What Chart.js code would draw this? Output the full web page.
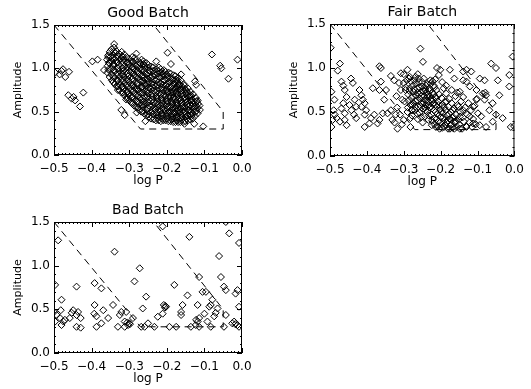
<!DOCTYPE html>
<html>
<head>
<meta charset="utf-8">
<script src="https://cdn.jsdelivr.net/npm/chart.js@4.4.0/dist/chart.umd.min.js"></script>
<style>
  body { margin: 0; background: #fff; width: 531px; height: 389px; position: relative; overflow: hidden; }
  canvas { position: absolute; }
</style>
</head>
<body>
<canvas id="good" width="265" height="195" style="left:0;top:0"></canvas>
<canvas id="fair" width="266" height="195" style="left:265px;top:0"></canvas>
<canvas id="bad" width="265" height="194" style="left:0;top:195px"></canvas>
<script>
// axis ticks
const xTicks = [-0.5, -0.4, -0.3, -0.2, -0.1, 0.0];
const yTicks = [0.0, 0.5, 1.0, 1.5];
const xMinorStep = 0.01;
const yMinorStep = 0.1;

// selection region (log P, amplitude)
const regionLogP = [-0.5, -0.27, -0.05, -0.05, -0.235];
const regionAmp = [1.5, 0.3, 0.3, 0.5, 1.5];

// Good batch: main clump plus stragglers
const goodCore = [
  [-0.358,0.95],[-0.357,1.03],[-0.359,1.1],[-0.356,1.15],
  [-0.352,0.9],[-0.351,0.98],[-0.353,1.06],[-0.35,1.13],[-0.352,1.19],
  [-0.346,0.86],[-0.347,0.93],[-0.345,1.0],[-0.346,1.08],[-0.344,1.15],[-0.347,1.22],
  [-0.339,0.82],[-0.34,0.89],[-0.338,0.97],[-0.341,1.04],[-0.339,1.11],[-0.337,1.18],[-0.34,1.24],
  [-0.333,0.79],[-0.332,0.86],[-0.334,0.93],[-0.331,1.0],[-0.333,1.07],[-0.332,1.14],[-0.334,1.2],
  [-0.326,0.75],[-0.327,0.82],[-0.325,0.9],[-0.326,0.97],[-0.328,1.04],[-0.325,1.1],[-0.327,1.17],
  [-0.32,0.72],[-0.319,0.79],[-0.321,0.86],[-0.32,0.93],[-0.318,1.0],[-0.321,1.07],[-0.319,1.14],[-0.32,1.19],
  [-0.313,0.69],[-0.314,0.76],[-0.312,0.83],[-0.313,0.9],[-0.315,0.97],[-0.312,1.03],[-0.314,1.1],[-0.313,1.16],
  [-0.307,0.66],[-0.306,0.73],[-0.308,0.8],[-0.307,0.87],[-0.305,0.94],[-0.308,1.0],[-0.306,1.07],[-0.307,1.13],
  [-0.3,0.63],[-0.301,0.7],[-0.299,0.77],[-0.3,0.84],[-0.302,0.91],[-0.299,0.97],[-0.301,1.04],[-0.3,1.11],
  [-0.294,0.6],[-0.293,0.67],[-0.295,0.74],[-0.294,0.81],[-0.292,0.88],[-0.295,0.95],[-0.293,1.01],[-0.294,1.08],[-0.292,1.13],
  [-0.287,0.57],[-0.288,0.64],[-0.286,0.71],[-0.287,0.78],[-0.289,0.85],[-0.286,0.92],[-0.288,0.99],[-0.287,1.05],[-0.285,1.12],
  [-0.281,0.55],[-0.28,0.62],[-0.282,0.69],[-0.281,0.76],[-0.279,0.83],[-0.282,0.9],[-0.28,0.96],[-0.281,1.03],[-0.283,1.09],
  [-0.274,0.52],[-0.275,0.59],[-0.273,0.66],[-0.274,0.73],[-0.276,0.8],[-0.273,0.87],[-0.275,0.94],[-0.274,1.0],[-0.272,1.07],
  [-0.268,0.5],[-0.267,0.57],[-0.269,0.64],[-0.268,0.71],[-0.266,0.78],[-0.269,0.85],[-0.267,0.91],[-0.268,0.98],[-0.27,1.05],[-0.267,1.1],
  [-0.261,0.48],[-0.262,0.55],[-0.26,0.62],[-0.261,0.68],[-0.263,0.75],[-0.26,0.82],[-0.262,0.89],[-0.261,0.96],[-0.259,1.03],[-0.262,1.08],
  [-0.255,0.46],[-0.254,0.52],[-0.256,0.59],[-0.255,0.66],[-0.253,0.73],[-0.256,0.8],[-0.254,0.87],[-0.255,0.93],[-0.257,1.0],[-0.254,1.06],
  [-0.248,0.44],[-0.249,0.5],[-0.247,0.57],[-0.248,0.64],[-0.25,0.71],[-0.247,0.78],[-0.249,0.84],[-0.248,0.91],[-0.246,0.98],[-0.249,1.04],
  [-0.242,0.42],[-0.241,0.49],[-0.243,0.55],[-0.242,0.62],[-0.24,0.69],[-0.243,0.76],[-0.241,0.82],[-0.242,0.89],[-0.244,0.96],[-0.241,1.02],
  [-0.235,0.41],[-0.236,0.47],[-0.234,0.54],[-0.235,0.61],[-0.237,0.67],[-0.234,0.74],[-0.236,0.81],[-0.235,0.87],[-0.233,0.94],[-0.236,1.01],
  [-0.229,0.4],[-0.228,0.46],[-0.23,0.53],[-0.229,0.59],[-0.227,0.66],[-0.23,0.72],[-0.228,0.79],[-0.229,0.86],[-0.231,0.92],[-0.228,0.99],
  [-0.222,0.4],[-0.223,0.46],[-0.221,0.52],[-0.222,0.58],[-0.224,0.65],[-0.221,0.71],[-0.223,0.77],[-0.222,0.84],[-0.22,0.9],[-0.223,0.97],[-0.221,1.01],
  [-0.216,0.39],[-0.215,0.45],[-0.217,0.51],[-0.216,0.57],[-0.214,0.64],[-0.217,0.7],[-0.215,0.76],[-0.216,0.82],[-0.218,0.89],[-0.215,0.95],[-0.216,0.99],
  [-0.209,0.4],[-0.21,0.46],[-0.208,0.52],[-0.209,0.58],[-0.211,0.63],[-0.208,0.69],[-0.21,0.75],[-0.209,0.81],[-0.207,0.87],[-0.21,0.93],[-0.208,0.98],
  [-0.203,0.4],[-0.202,0.45],[-0.204,0.51],[-0.203,0.57],[-0.201,0.62],[-0.204,0.68],[-0.202,0.74],[-0.203,0.8],[-0.205,0.86],[-0.202,0.92],[-0.203,0.96],
  [-0.196,0.39],[-0.197,0.45],[-0.195,0.5],[-0.196,0.56],[-0.198,0.62],[-0.195,0.67],[-0.197,0.73],[-0.196,0.79],[-0.194,0.85],[-0.197,0.91],[-0.195,0.95],
  [-0.19,0.39],[-0.189,0.44],[-0.191,0.5],[-0.19,0.55],[-0.188,0.61],[-0.191,0.67],[-0.189,0.72],[-0.19,0.78],[-0.192,0.84],[-0.189,0.89],[-0.19,0.94],
  [-0.183,0.38],[-0.184,0.44],[-0.182,0.49],[-0.183,0.55],[-0.185,0.6],[-0.182,0.66],[-0.184,0.72],[-0.183,0.77],[-0.181,0.83],[-0.184,0.88],[-0.182,0.92],
  [-0.177,0.38],[-0.176,0.43],[-0.178,0.49],[-0.177,0.54],[-0.175,0.6],[-0.178,0.65],[-0.176,0.71],[-0.177,0.76],[-0.179,0.82],[-0.176,0.87],[-0.177,0.91],
  [-0.17,0.38],[-0.171,0.43],[-0.169,0.48],[-0.17,0.54],[-0.172,0.59],[-0.169,0.65],[-0.171,0.7],[-0.17,0.76],[-0.168,0.81],[-0.171,0.86],[-0.169,0.89],
  [-0.164,0.38],[-0.163,0.43],[-0.165,0.49],[-0.164,0.54],[-0.162,0.6],[-0.165,0.65],[-0.163,0.7],[-0.164,0.76],[-0.166,0.81],[-0.163,0.86],
  [-0.157,0.38],[-0.158,0.44],[-0.156,0.49],[-0.157,0.55],[-0.159,0.6],[-0.156,0.65],[-0.158,0.71],[-0.157,0.76],[-0.155,0.82],
  [-0.151,0.39],[-0.15,0.44],[-0.152,0.5],[-0.151,0.55],[-0.149,0.61],[-0.152,0.66],[-0.15,0.71],[-0.151,0.76],[-0.153,0.8],
  [-0.144,0.4],[-0.145,0.45],[-0.143,0.51],[-0.144,0.56],[-0.146,0.62],[-0.143,0.67],[-0.145,0.72],[-0.144,0.77],
  [-0.138,0.41],[-0.137,0.46],[-0.139,0.52],[-0.138,0.57],[-0.136,0.63],[-0.139,0.68],[-0.137,0.73],
  [-0.131,0.42],[-0.132,0.48],[-0.13,0.53],[-0.131,0.59],[-0.133,0.64],[-0.13,0.7],
  [-0.125,0.45],[-0.124,0.5],[-0.126,0.56],[-0.125,0.61],[-0.123,0.66],
  [-0.118,0.48],[-0.119,0.54],[-0.117,0.59],[-0.118,0.63],
  [-0.112,0.52],[-0.113,0.57]
];
// points packed between the ones above in the densest part
const goodCoreFill = [
  [-0.355,0.985],[-0.354,1.065],[-0.356,1.13],
  [-0.342,0.84],[-0.343,0.91],[-0.341,0.98],[-0.342,1.05],[-0.344,1.12],[-0.341,1.19],
  [-0.329,0.79],[-0.33,0.86],[-0.328,0.93],[-0.329,1.0],[-0.331,1.07],[-0.328,1.14],
  [-0.316,0.72],[-0.317,0.79],[-0.315,0.86],[-0.316,0.93],[-0.318,1.0],[-0.315,1.07],[-0.317,1.13],
  [-0.303,0.66],[-0.304,0.73],[-0.302,0.8],[-0.303,0.87],[-0.305,0.94],[-0.302,1.01],[-0.304,1.07],
  [-0.29,0.6],[-0.291,0.67],[-0.289,0.74],[-0.29,0.81],[-0.292,0.88],[-0.289,0.95],[-0.291,1.02],[-0.29,1.08],
  [-0.277,0.55],[-0.278,0.62],[-0.276,0.69],[-0.277,0.76],[-0.279,0.83],[-0.276,0.9],[-0.278,0.97],[-0.277,1.04],
  [-0.264,0.51],[-0.265,0.58],[-0.263,0.65],[-0.264,0.72],[-0.266,0.79],[-0.263,0.86],[-0.265,0.92],[-0.264,0.99],[-0.262,1.05],
  [-0.251,0.47],[-0.252,0.54],[-0.25,0.61],[-0.251,0.68],[-0.253,0.75],[-0.25,0.82],[-0.252,0.88],[-0.251,0.95],[-0.249,1.01],
  [-0.238,0.44],[-0.239,0.51],[-0.237,0.57],[-0.238,0.64],[-0.24,0.71],[-0.237,0.78],[-0.239,0.84],[-0.238,0.91],[-0.236,0.97],
  [-0.225,0.43],[-0.226,0.49],[-0.224,0.55],[-0.225,0.62],[-0.227,0.68],[-0.224,0.74],[-0.226,0.81],[-0.225,0.87],[-0.223,0.94],
  [-0.212,0.42],[-0.213,0.48],[-0.211,0.54],[-0.212,0.6],[-0.214,0.66],[-0.211,0.72],[-0.213,0.78],[-0.212,0.85],[-0.21,0.91],[-0.213,0.96],
  [-0.199,0.42],[-0.2,0.48],[-0.198,0.53],[-0.199,0.59],[-0.201,0.65],[-0.198,0.71],[-0.2,0.76],[-0.199,0.82],[-0.197,0.88],[-0.2,0.93],
  [-0.186,0.41],[-0.187,0.47],[-0.185,0.52],[-0.186,0.58],[-0.188,0.63],[-0.185,0.69],[-0.187,0.75],[-0.186,0.8],[-0.184,0.86],
  [-0.173,0.4],[-0.174,0.46],[-0.172,0.51],[-0.173,0.57],[-0.175,0.62],[-0.172,0.68],[-0.174,0.73],[-0.173,0.79],[-0.171,0.84],
  [-0.16,0.41],[-0.161,0.46],[-0.159,0.52],[-0.16,0.57],[-0.162,0.63],[-0.159,0.68],[-0.161,0.74],[-0.16,0.79],
  [-0.147,0.42],[-0.148,0.47],[-0.146,0.53],[-0.147,0.58],[-0.149,0.64],[-0.146,0.69],[-0.148,0.74],
  [-0.134,0.45],[-0.135,0.5],[-0.133,0.56],[-0.134,0.61],[-0.136,0.67],
  [-0.121,0.51],[-0.122,0.57],[-0.12,0.62]
];
const goodStray = [
  [-0.497,0.95],[-0.485,0.93],[-0.476,0.99],[-0.47,0.9],[-0.46,0.96],[-0.48,0.97],
  [-0.462,0.69],[-0.453,0.65],[-0.444,0.63],[-0.448,0.67],[-0.431,0.56],[-0.422,0.72],
  [-0.398,1.08],[-0.384,1.1],[-0.367,0.98],[-0.34,1.28],[-0.33,0.75],[-0.321,0.52],
  [-0.312,0.46],[-0.308,0.64],[-0.281,1.17],[-0.28,0.49],[-0.259,0.58],[-0.257,0.39],
  [-0.228,1.08],[-0.198,1.18],[-0.189,1.05],[-0.162,0.93],[-0.122,0.81],[-0.125,0.85],
  [-0.136,0.69],[-0.153,0.36],[-0.127,0.36],[-0.103,0.33],[-0.08,1.16],[-0.058,1.03],
  [-0.055,1.0],[-0.036,0.88],[-0.012,1.1]
];

// Fair batch
const fairPoints = [
  [-0.498,1.23],[-0.473,1.05],[-0.479,0.97],[-0.496,0.73],[-0.488,0.64],[-0.49,0.52],
  [-0.487,0.47],[-0.493,0.41],[-0.496,0.33],[-0.482,0.43],[-0.473,0.39],[-0.469,0.845],
  [-0.464,0.8],[-0.46,0.75],[-0.455,0.67],[-0.464,0.6],[-0.469,0.54],[-0.46,0.485],
  [-0.455,0.35],[-0.46,0.41],[-0.447,0.58],[-0.442,0.52],[-0.443,0.88],[-0.438,0.83],
  [-0.433,0.64],[-0.429,0.56],[-0.435,0.47],[-0.429,0.43],[-0.42,0.75],[-0.415,0.69],
  [-0.411,0.64],[-0.406,0.6],[-0.415,0.56],[-0.402,0.52],[-0.406,0.47],[-0.406,0.33],
  [-0.393,0.37],[-0.389,0.43],[-0.38,0.47],[-0.384,0.77],[-0.366,0.75],[-0.362,0.845],
  [-0.357,0.485],[-0.366,0.41],[-0.371,0.37],[-0.362,1.0],[-0.366,1.02],[-0.353,0.64],
  [-0.348,0.75],[-0.344,0.485],[-0.335,0.52],[-0.335,0.91],[-0.326,0.86],[-0.331,0.41],
  [-0.322,0.47],[-0.317,0.31],[-0.313,0.83],[-0.308,0.94],[-0.308,0.75],[-0.304,0.64],
  [-0.3,0.41],[-0.29,0.98],[-0.286,0.88],[-0.295,0.75],[-0.282,0.33],[-0.277,0.52],
  [-0.282,0.43],[-0.268,0.9],[-0.255,1.22],[-0.248,1.07],
  [-0.325,0.38],[-0.318,0.55],[-0.31,0.47],[-0.305,0.36],[-0.32,0.68],[-0.3,0.83],
  [-0.298,0.62],[-0.295,0.78],[-0.292,0.86],[-0.29,0.5],[-0.288,0.7],[-0.284,0.9],
  [-0.282,0.58],[-0.28,0.66],[-0.278,0.46],[-0.276,0.8],[-0.274,0.73],[-0.271,0.86],
  [-0.27,0.52],[-0.268,0.62],[-0.266,0.69],[-0.264,0.77],[-0.262,0.42],[-0.261,0.56],
  [-0.259,0.84],[-0.257,0.49],[-0.256,0.65],[-0.254,0.72],[-0.252,0.6],[-0.251,0.79],
  [-0.249,0.38],[-0.248,0.54],[-0.246,0.88],[-0.245,0.68],[-0.243,0.45],[-0.242,0.75],
  [-0.24,0.58],[-0.239,0.63],[-0.237,0.82],[-0.236,0.5],[-0.234,0.7],[-0.233,0.41],
  [-0.231,0.77],[-0.23,0.55],[-0.228,0.86],[-0.227,0.64],[-0.225,0.47],[-0.224,0.35],
  [-0.222,0.72],[-0.221,0.59],[-0.219,0.8],[-0.218,0.52],[-0.216,0.43],[-0.215,0.67],
  [-0.213,0.33],[-0.212,0.75],[-0.21,0.56],[-0.209,0.48],[-0.207,0.62],[-0.206,0.39],
  [-0.204,0.7],[-0.203,0.31],[-0.201,0.53],[-0.2,0.44],[-0.198,0.66],[-0.197,0.36],
  [-0.195,0.58],[-0.194,0.49],[-0.192,0.77],[-0.191,0.33],[-0.189,0.41],[-0.188,0.61],
  [-0.186,0.52],[-0.185,0.71],[-0.183,0.38],[-0.182,0.46],[-0.18,0.31],[-0.179,0.56],
  [-0.177,0.65],[-0.176,0.42],[-0.174,0.35],[-0.172,0.5],[-0.17,0.6],[-0.168,0.32],
  [-0.166,0.44],[-0.164,0.54],[-0.162,0.38],[-0.16,0.68],[-0.158,0.47],[-0.156,0.33],
  [-0.154,0.58],[-0.152,0.41],[-0.15,0.36],[-0.147,0.5],[-0.145,0.62],[-0.142,0.31],
  [-0.14,0.44],[-0.137,0.39],[-0.134,0.55],[-0.131,0.34],[-0.128,0.47],[-0.125,0.6],
  [-0.122,0.38],[-0.118,0.52],[-0.115,0.33],[-0.112,0.42],[-0.108,0.57],[-0.105,0.36],
  [-0.102,0.65],
  [-0.285,0.74],[-0.279,0.52],[-0.273,0.6],[-0.267,0.82],[-0.263,0.48],[-0.258,0.7],
  [-0.253,0.44],[-0.247,0.6],[-0.244,0.78],[-0.241,0.52],[-0.238,0.72],[-0.235,0.62],
  [-0.232,0.46],[-0.229,0.68],[-0.226,0.56],[-0.223,0.4],[-0.22,0.64],[-0.217,0.36],
  [-0.214,0.5],[-0.211,0.42],[-0.208,0.34],[-0.205,0.58],[-0.202,0.38],[-0.199,0.5],
  [-0.196,0.32],[-0.193,0.44],[-0.19,0.55],[-0.187,0.35],[-0.184,0.62],[-0.181,0.4],
  [-0.178,0.48],[-0.175,0.31],[-0.171,0.41],[-0.167,0.52],[-0.163,0.31],[-0.159,0.4],
  [-0.289,0.55],[-0.287,0.63],[-0.283,0.77],[-0.281,0.85],[-0.277,0.58],[-0.275,0.68],
  [-0.272,0.76],[-0.269,0.56],[-0.265,0.63],[-0.263,0.72],[-0.26,0.88],[-0.258,0.78],
  [-0.255,0.57],[-0.252,0.68],[-0.25,0.84],[-0.247,0.74],[-0.244,0.64],[-0.242,0.55],
  [-0.239,0.8],[-0.236,0.67],[-0.233,0.58],[-0.23,0.74],[-0.227,0.82],[-0.224,0.62],
  [-0.222,0.85],[-0.219,0.7],[-0.217,0.78],[-0.214,0.58],[-0.212,0.66],
  [-0.3,0.93],[-0.262,0.93],[-0.215,0.87],[-0.205,0.92],[-0.196,0.84],[-0.185,0.8],
  [-0.17,0.75],[-0.163,0.88],[-0.155,0.72],
  [-0.21,1.0],[-0.201,0.98],[-0.175,0.98],[-0.139,0.96],[-0.13,0.98],[-0.117,0.96],
  [-0.094,0.88],[-0.081,0.86],[-0.063,1.05],[-0.05,1.0],[-0.045,0.86],[-0.041,0.69],
  [-0.014,0.92],[-0.014,0.79],[-0.005,1.13],[-0.01,0.33],[-0.001,0.34],[-0.032,0.43],
  [-0.05,0.47],[-0.068,0.52],[-0.059,0.6],[-0.081,0.64],[-0.086,0.71],[-0.077,0.69],
  [-0.079,0.72],[-0.103,0.75],[-0.103,0.64],[-0.121,0.79],[-0.112,0.56],[-0.099,0.485],
  [-0.09,0.45],[-0.121,0.45],[-0.112,0.37],[-0.13,0.33],[-0.094,0.35],[-0.077,0.33],
  [-0.059,0.39],[-0.139,0.86],[-0.13,0.845],[-0.148,0.73],[-0.139,0.67],[-0.152,0.56],
  [-0.139,0.52],[-0.148,0.45],[-0.161,0.39],[-0.148,0.31]
];

// Bad batch
const badPoints = [
  [-0.489,1.29],[-0.497,0.78],[-0.5,0.47],[-0.493,0.435],[-0.497,0.36],[-0.48,0.61],
  [-0.482,0.49],[-0.484,0.4],[-0.475,0.36],[-0.48,0.32],[-0.471,0.38],[-0.458,0.4],
  [-0.449,0.49],[-0.453,0.46],[-0.44,0.435],[-0.44,0.76],[-0.436,0.47],[-0.429,0.4],
  [-0.44,0.3],[-0.429,0.29],[-0.392,0.8],[-0.392,0.55],[-0.393,0.45],[-0.387,0.42],
  [-0.387,0.3],[-0.374,0.34],[-0.374,0.74],[-0.369,0.49],[-0.356,0.4],[-0.343,0.55],
  [-0.339,1.16],[-0.33,0.3],[-0.325,0.435],[-0.321,0.47],[-0.312,0.36],[-0.308,0.47],
  [-0.312,0.3],[-0.303,0.32],[-0.3,0.34],[-0.298,0.33],[-0.305,0.35],[-0.29,0.4],
  [-0.286,0.82],[-0.272,0.97],[-0.268,0.3],[-0.259,0.3],[-0.25,0.34],[-0.264,0.51],
  [-0.255,0.645],[-0.233,0.3],[-0.224,0.415],[-0.211,1.45],[-0.208,0.55],[-0.202,0.53],
  [-0.205,0.52],[-0.204,0.54],[-0.211,0.45],[-0.193,0.3],[-0.18,0.78],[-0.175,0.3],
  [-0.162,0.435],[-0.162,0.47],[-0.158,0.55],[-0.145,0.66],[-0.14,1.33],[-0.136,0.3],
  [-0.123,0.32],[-0.118,0.36],[-0.122,0.38],[-0.114,0.4],[-0.118,0.55],[-0.114,0.3],
  [-0.114,0.87],[-0.105,0.7],[-0.1,0.45],[-0.096,0.7],[-0.092,0.36],[-0.083,0.3],
  [-0.087,0.53],[-0.083,0.55],[-0.079,0.61],[-0.074,0.42],[-0.07,0.46],[-0.065,0.51],
  [-0.061,1.11],[-0.056,0.87],[-0.048,0.3],[-0.043,0.435],[-0.048,0.76],[-0.043,0.72],
  [-0.034,1.37],[-0.043,1.5],[-0.026,0.34],[-0.021,0.36],[-0.018,0.33],[-0.017,0.68],
  [-0.012,0.72],[-0.008,1.26],[-0.012,0.32],[-0.008,0.53],[-0.008,0.3]
];

const FONT = 'DejaVu Sans';

// box with inward ticks on all four sides, titles drawn by hand
const idlFrame = {
  id: 'idlFrame',
  afterDraw(chart, args, opts) {
    const { ctx, chartArea: a, scales: { x, y } } = chart;
    ctx.save();
    ctx.strokeStyle = '#000';
    ctx.lineWidth = 1;
    ctx.strokeRect(a.left + 0.5, a.top + 0.5, a.right - a.left - 1, a.bottom - a.top - 1);
    ctx.beginPath();
    const nx = Math.round((xTicks[xTicks.length - 1] - xTicks[0]) / xMinorStep);
    for (let i = 0; i <= nx; i++) {
      const px = Math.round(x.getPixelForValue(xTicks[0] + i * xMinorStep)) + 0.5;
      const len = i % 10 === 0 ? 5 : 2;
      ctx.moveTo(px, a.bottom); ctx.lineTo(px, a.bottom - len);
      ctx.moveTo(px, a.top); ctx.lineTo(px, a.top + len);
    }
    const ny = Math.round((yTicks[yTicks.length - 1] - yTicks[0]) / yMinorStep);
    for (let i = 0; i <= ny; i++) {
      const py = Math.round(y.getPixelForValue(yTicks[0] + i * yMinorStep)) + 0.5;
      const len = i % 5 === 0 ? 5 : 2;
      ctx.moveTo(a.left, py); ctx.lineTo(a.left + len, py);
      ctx.moveTo(a.right, py); ctx.lineTo(a.right - len, py);
    }
    ctx.stroke();

    ctx.fillStyle = '#000';
    ctx.textAlign = 'center';
    ctx.textBaseline = 'middle';
    const cx = (a.left + a.right) / 2;
    ctx.font = '14px "' + FONT + '"';
    ctx.fillText(opts.title, cx, a.top - 12);
    ctx.font = '12px "' + FONT + '"';
    ctx.fillText('log P', cx, a.bottom + 26);
    ctx.translate(a.left - 36, (a.top + a.bottom) / 2);
    ctx.rotate(-Math.PI / 2);
    ctx.font = '11px "' + FONT + '"';
    ctx.fillText('Amplitude', 0, 0);
    ctx.restore();
  }
};

const fmt = v => (v < 0 ? '\u2212' : '') + Math.abs(v).toFixed(1);

function makeChart(id, title, sets, box) {
  const datasets = sets.map(pts => ({
    type: 'scatter',
    data: pts.map(p => ({ x: p[0], y: p[1] })),
    pointStyle: 'rectRot',
    pointRadius: 3.5,
    pointBorderWidth: 1,
    borderColor: '#000',
    backgroundColor: 'rgba(0,0,0,0)',
    clip: 0
  }));
  datasets.push({
    type: 'line',
    data: regionLogP.map((v, i) => ({ x: v, y: regionAmp[i] })),
    borderColor: '#000',
    borderWidth: 1,
    borderDash: [7, 5],
    pointRadius: 0,
    tension: 0,
    fill: false,
    clip: 0
  });
  return new Chart(document.getElementById(id), {
    type: 'scatter',
    data: { datasets },
    options: {
      responsive: false,
      animation: false,
      events: [],
      layout: { padding: { left: 0, top: box.top, right: box.right, bottom: 0 } },
      plugins: { legend: { display: false }, tooltip: { enabled: false }, idlFrame: { title } },
      scales: {
        x: {
          type: 'linear', min: xTicks[0], max: xTicks[xTicks.length - 1],
          afterBuildTicks: s => { s.ticks = xTicks.map(v => ({ value: v })); },
          afterFit: s => { s.height = box.xh; },
          grid: { display: false, drawTicks: false },
          border: { display: false },
          ticks: { callback: fmt, color: '#000', padding: 7, maxRotation: 0, font: { family: FONT, size: 12 } }
        },
        y: {
          type: 'linear', min: yTicks[0], max: yTicks[yTicks.length - 1],
          afterBuildTicks: s => { s.ticks = yTicks.map(v => ({ value: v })); },
          afterFit: s => { s.width = box.yw; },
          grid: { display: false, drawTicks: false },
          border: { display: false },
          ticks: { callback: v => v.toFixed(1), color: '#000', padding: 4, font: { family: FONT, size: 12 } }
        }
      }
    },
    plugins: [idlFrame]
  });
}

makeChart('good', 'Good Batch', [goodCore, goodCoreFill, goodStray], { top: 25, right: 23, yw: 54, xh: 40 });
makeChart('fair', 'Fair Batch', [fairPoints], { top: 24, right: 14, yw: 65, xh: 39 });
makeChart('bad', 'Bad Batch', [badPoints], { top: 27, right: 23, yw: 54, xh: 36 });
</script>
</body>
</html>
